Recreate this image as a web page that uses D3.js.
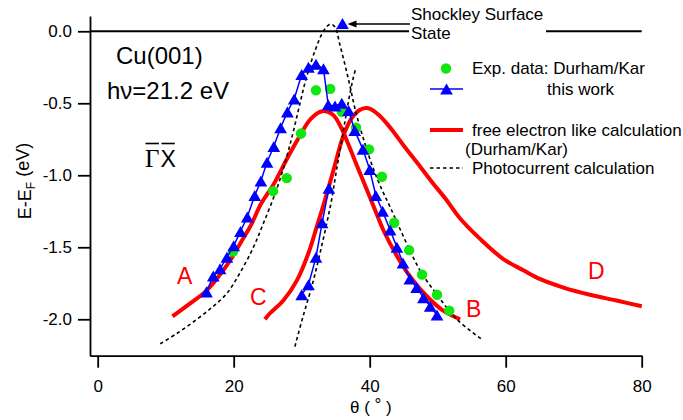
<!DOCTYPE html>
<html>
<head>
<meta charset="utf-8">
<script src="https://cdn.jsdelivr.net/npm/d3@7"></script>
<style>
  body { margin: 0; background: #fff; }
  svg { display: block; font-family: "Liberation Sans", Arial, Helvetica, sans-serif; }
</style>
</head>
<body>
<svg id="chart" width="683" height="420"></svg>
<script>
// ----------------------------------------------------
// data  [theta (deg), E-EF (eV)]
// ----------------------------------------------------
const xTicks = [0, 20, 40, 60, 80];
const yTicks = [0, -0.5, -1, -1.5, -2];

// Exp. data: Durham/Kar (green dots)
const expDurham = [
  [19.9, -1.53], [25.8, -1.11], [27.8, -1.02], [29.9, -0.71], [32.1, -0.41],
  [34.2, -0.40], [35.9, -0.56], [38.0, -0.67], [39.9, -0.82], [41.8, -1.01],
  [43.6, -1.33], [45.8, -1.52], [47.7, -1.69], [49.9, -1.83], [51.7, -1.94]
];

// this work (blue triangles), A/B branch
const thisWork = [
  [16.0, -1.81], [17.0, -1.70], [18.0, -1.65], [19.0, -1.57], [20.0, -1.49],
  [21.0, -1.39], [22.0, -1.29], [23.1, -1.14], [24.0, -1.04], [24.9, -0.91],
  [25.9, -0.80], [26.9, -0.67], [27.9, -0.56], [28.9, -0.47], [30.0, -0.30],
  [31.0, -0.25], [32.1, -0.23], [33.2, -0.26], [33.9, -0.51], [34.9, -0.52],
  [35.9, -0.50], [36.9, -0.55], [37.8, -0.69], [39.0, -0.82], [40.0, -0.96],
  [40.9, -1.14], [41.9, -1.25], [43.0, -1.38], [44.0, -1.50], [44.9, -1.61],
  [45.9, -1.72], [46.9, -1.78], [47.9, -1.85], [48.9, -1.91], [49.9, -1.97]
];

// this work, C branch
const thisWorkC = [
  [30.0, -1.83], [31.0, -1.76], [32.1, -1.57], [33.0, -1.33], [34.0, -1.09]
];

// Shockley surface state
const shockley = [[36.0, 0.054]];

// free electron like calculation (Durham/Kar)
const freeElecAB = [
  [11.0, -1.98], [13.6, -1.89], [15.8, -1.81], [17.5, -1.72], [19.5, -1.59],
  [21.0, -1.47], [22.5, -1.35], [24.0, -1.20], [25.9, -1.06], [27.9, -0.88],
  [29.8, -0.72], [31.3, -0.61], [33.0, -0.555], [34.6, -0.58], [35.7, -0.66],
  [36.9, -0.79], [38.1, -0.93], [39.4, -1.08], [40.7, -1.23], [42.0, -1.38],
  [44.0, -1.56], [45.9, -1.70], [48.4, -1.84], [50.8, -1.94], [53.3, -2.00]
];
const freeElecCD = [
  [24.6, -2.00], [25.3, -1.96], [27.3, -1.87], [29.3, -1.73], [31.0, -1.54],
  [32.2, -1.36], [33.5, -1.16], [34.7, -0.96], [36.1, -0.73], [37.4, -0.60],
  [38.6, -0.545], [39.8, -0.535], [41.3, -0.58], [43.2, -0.68], [45.1, -0.80],
  [47.1, -0.92], [49.2, -1.05], [51.1, -1.16], [53.3, -1.30], [56.2, -1.44],
  [59.6, -1.58], [62.6, -1.66], [65.0, -1.72], [68.5, -1.78], [72.4, -1.83],
  [76.3, -1.87], [80.0, -1.91]
];

// Photocurrent calculation (dotted)
const photoLeft = [
  [9.2, -2.17], [11.6, -2.10], [14.6, -2.00], [17.0, -1.91], [19.0, -1.82],
  [20.9, -1.68], [22.9, -1.50], [24.4, -1.33], [26.3, -1.10], [27.8, -0.87],
  [28.8, -0.69], [29.8, -0.49], [30.7, -0.32], [32.0, -0.13], [33.2, 0.0],
  [34.2, 0.05], [34.9, 0.03], [35.6, -0.09], [36.4, -0.24], [37.1, -0.38],
  [37.9, -0.55], [39.1, -0.75], [40.5, -0.95], [41.8, -1.10], [43.0, -1.22],
  [45.4, -1.47], [47.4, -1.66], [49.9, -1.83], [52.8, -2.00], [56.5, -2.14]
];
const photoRight = [
  [29.0, -2.19], [30.2, -1.98], [31.5, -1.77], [32.7, -1.54], [33.7, -1.33],
  [34.4, -1.17], [35.1, -0.97], [36.1, -0.70], [36.9, -0.48], [37.6, -0.32],
  [38.0, -0.25]
];

// ----------------------------------------------------
// scales / axes
// ----------------------------------------------------
const svg = d3.select("#chart");
const x = d3.scaleLinear().domain([-1.13, 80]).range([90, 641.7]);
const y = d3.scaleLinear().domain([0.106, -2.253]).range([16, 355.7]);

const line = d3.line().x(d => x(d[0])).y(d => y(d[1]));
const smooth = d3.line().x(d => x(d[0])).y(d => y(d[1])).curve(d3.curveCatmullRom.alpha(0.5));

const gx = svg.append("g")
  .attr("transform", "translate(0," + y.range()[1] + ")")
  .call(d3.axisBottom(x).tickValues(xTicks).tickSize(12).tickPadding(12).tickSizeOuter(0));
const gy = svg.append("g")
  .attr("transform", "translate(" + x.range()[0] + ",0)")
  .call(d3.axisLeft(y).tickValues(yTicks).tickSize(12).tickPadding(6).tickSizeOuter(0)
    .tickFormat(d => d.toFixed(1)));

[gx, gy].forEach(g => {
  g.attr("font-family", null).attr("font-size", null);
  g.selectAll("path, line").attr("stroke", "#000").attr("stroke-width", 1.8);
  g.selectAll("text").attr("fill", "#000").style("font-size", "17px");
});

// zero line
svg.append("path")
  .attr("d", line([[x.domain()[0], 0], [80, 0]]))
  .attr("fill", "none").attr("stroke", "#000").attr("stroke-width", 1.8);

// ----------------------------------------------------
// curves
// ----------------------------------------------------
[freeElecAB, freeElecCD].forEach(s => {
  svg.append("path").attr("d", smooth(s))
    .attr("fill", "none").attr("stroke", "#ff0000").attr("stroke-width", 4)
    .attr("stroke-linejoin", "round").attr("stroke-linecap", "butt");
});

[photoLeft, photoRight].forEach(s => {
  svg.append("path").attr("d", smooth(s))
    .attr("fill", "none").attr("stroke", "#000").attr("stroke-width", 1.6)
    .attr("stroke-dasharray", "3.5,3");
});

svg.append("g").selectAll("circle")
  .data(expDurham)
  .enter().append("circle")
  .attr("cx", d => x(d[0])).attr("cy", d => y(d[1])).attr("r", 5.2)
  .attr("fill", "#11e611");

[thisWork, thisWorkC].forEach(s => {
  svg.append("path").attr("d", line(s))
    .attr("fill", "none").attr("stroke", "#0000ff").attr("stroke-width", 1.5);
});

const tri = d3.symbol(d3.symbolTriangle, 70);
const triOff = 1.8; // centre on bounding box instead of centroid
svg.append("g").selectAll("path")
  .data(thisWork.concat(thisWorkC, shockley))
  .enter().append("path")
  .attr("d", tri)
  .attr("transform", d => "translate(" + x(d[0]) + "," + (y(d[1]) + triOff) + ")")
  .attr("fill", "#0000ff");

// ----------------------------------------------------
// annotations
// ----------------------------------------------------
svg.append("rect").attr("x", 409).attr("y", 2).attr("width", 137).attr("height", 42).attr("fill", "#fff");

const ax0 = x(shockley[0][0]) + 5;
const ay = 24;
svg.append("line").attr("x1", 410).attr("y1", ay).attr("x2", ax0 + 6).attr("y2", ay)
  .attr("stroke", "#000").attr("stroke-width", 1.3);
svg.append("path")
  .attr("d", "M" + ax0 + "," + ay + "l9,-3.5l0,7z")
  .attr("fill", "#000");

svg.append("text").attr("x", 411).attr("y", 19.5).style("font-size", "17px").text("Shockley Surface");
svg.append("text").attr("x", 411).attr("y", 38.5).style("font-size", "17px").text("State");

svg.append("text").attr("x", 116).attr("y", 63.5).style("font-size", "24px").text("Cu(001)");
svg.append("text").attr("x", 107).attr("y", 98.5).style("font-size", "24px").text("hν=21.2 eV");

// Gamma-bar X-bar
const gam = svg.append("text").attr("x", 145).attr("y", 167)
  .style("font-family", "'Liberation Serif', 'Times New Roman', serif").style("font-size", "25px").text("Γ");
const gb = gam.node().getBBox();
const xx = svg.append("text").attr("x", gb.x + gb.width + 1).attr("y", 167).style("font-size", "23px").text("X");
const xb = xx.node().getBBox();
[[gb.x + 0.5, gb.x + gb.width - 0.5], [xb.x + 1, xb.x + xb.width - 1]].forEach(b => {
  svg.append("line").attr("x1", b[0]).attr("x2", b[1]).attr("y1", 143.5).attr("y2", 143.5)
    .attr("stroke", "#000").attr("stroke-width", 1.6);
});

// branch labels
const labels = [["A", 177, 283.5], ["B", 466, 316.5], ["C", 250, 305], ["D", 588, 279]];
labels.forEach(l => {
  svg.append("text").attr("x", l[1]).attr("y", l[2]).attr("fill", "#ff0000")
    .style("font-size", "23px").text(l[0]);
});

// axis titles
const yl = svg.append("text").attr("transform", "translate(31,181) rotate(-90)")
  .attr("text-anchor", "middle").style("font-size", "18px");
yl.append("tspan").text("E-E");
yl.append("tspan").attr("dy", "0.3em").style("font-size", "12px").text("F");
yl.append("tspan").attr("dy", "-0.3em").text(" (eV)");

const xl = svg.append("text").attr("x", 350).attr("y", 413).style("font-size", "17px");
xl.append("tspan").text("θ ( ");
xl.append("tspan").attr("dy", -3).text("°");
xl.append("tspan").attr("dy", 3).text(" )");

// ----------------------------------------------------
// legend
// ----------------------------------------------------
const lg = svg.append("g").style("font-size", "17px");
lg.append("circle").attr("cx", 446).attr("cy", 68.5).attr("r", 5.2).attr("fill", "#11e611");
lg.append("text").attr("x", 472).attr("y", 74).text("Exp. data: Durham/Kar");

lg.append("line").attr("x1", 430).attr("x2", 463).attr("y1", 89).attr("y2", 89)
  .attr("stroke", "#0000ff").attr("stroke-width", 1.5);
lg.append("path").attr("d", tri).attr("transform", "translate(446.5," + (89 + triOff) + ")").attr("fill", "#0000ff");
lg.append("text").attr("x", 547).attr("y", 94.5).text("this work");

lg.append("line").attr("x1", 430).attr("x2", 463).attr("y1", 130).attr("y2", 130)
  .attr("stroke", "#ff0000").attr("stroke-width", 4);
lg.append("text").attr("x", 472).attr("y", 135.5).text("free electron like calculation");
lg.append("text").attr("x", 465).attr("y", 155).text("(Durham/Kar)");

lg.append("line").attr("x1", 430).attr("x2", 463).attr("y1", 168).attr("y2", 168)
  .attr("stroke", "#000").attr("stroke-width", 1.6).attr("stroke-dasharray", "3.5,3");
lg.append("text").attr("x", 472).attr("y", 174).text("Photocurrent calculation");
</script>
</body>
</html>
